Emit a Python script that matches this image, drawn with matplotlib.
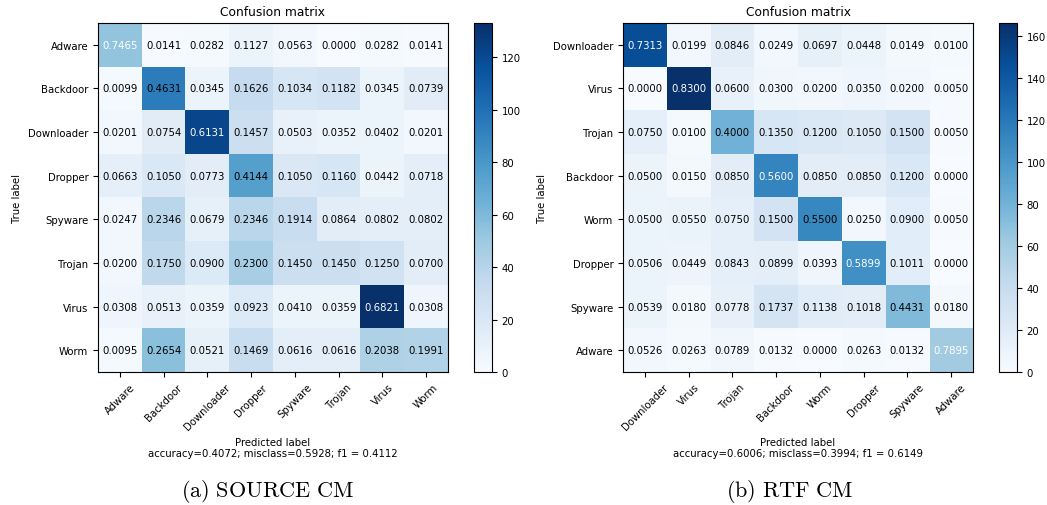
import numpy as np
import matplotlib
matplotlib.use('Agg')
import matplotlib.pyplot as plt

plt.rcParams['mathtext.fontset'] = 'cm'

# SOURCE CM: raw counts (rows = true label)
src_names = ['Adware', 'Backdoor', 'Downloader', 'Dropper', 'Spyware', 'Trojan', 'Virus', 'Worm']
src_cm = [
    [53, 1, 2, 8, 4, 0, 2, 1],
    [2, 94, 7, 33, 21, 24, 7, 15],
    [4, 15, 122, 29, 10, 7, 8, 4],
    [12, 19, 14, 75, 19, 21, 8, 13],
    [4, 38, 11, 38, 31, 14, 13, 13],
    [4, 35, 18, 46, 29, 29, 25, 14],
    [6, 10, 7, 18, 8, 7, 133, 6],
    [2, 56, 11, 31, 13, 13, 43, 42],
]
src_stats = (0.4072, 0.5928, 0.4112)

# RTF CM
rtf_names = ['Downloader', 'Virus', 'Trojan', 'Backdoor', 'Worm', 'Dropper', 'Spyware', 'Adware']
rtf_cm = [
    [147, 4, 17, 5, 14, 9, 3, 2],
    [0, 166, 12, 6, 4, 7, 4, 1],
    [15, 2, 80, 27, 24, 21, 30, 1],
    [10, 3, 17, 112, 17, 17, 24, 0],
    [10, 11, 15, 30, 110, 5, 18, 1],
    [9, 8, 15, 16, 7, 105, 18, 0],
    [9, 3, 13, 29, 19, 17, 74, 3],
    [4, 2, 6, 1, 0, 2, 1, 60],
]
rtf_stats = (0.6006, 0.3994, 0.6149)

W, H = 1047, 506
FS = 7.3


def px_rect(x0, y0, x1, y1):
    return [x0 / W, 1 - y1 / H, (x1 - x0) / W, (y1 - y0) / H]


def plot_cm(fig, cm, names, stats, ax_px, cb_px):
    cm = np.array(cm, dtype=float)
    ax = fig.add_axes(px_rect(*ax_px))
    cax = fig.add_axes(px_rect(*cb_px))
    im = ax.imshow(cm, interpolation='nearest', cmap=plt.cm.Blues, aspect='auto')
    cb = fig.colorbar(im, cax=cax)
    cb.ax.tick_params(labelsize=FS)
    ax.set_title('Confusion matrix', fontsize=8.8)

    # 文字显示按行归一化的比例，颜色仍按原始计数
    norm = cm / cm.sum(axis=1)[:, np.newaxis]
    thresh = norm.max() / 1.5
    for i in range(norm.shape[0]):
        for j in range(norm.shape[1]):
            ax.text(j, i, "{:0.4f}".format(norm[i, j]), ha='center', va='center',
                    fontsize=FS, color='white' if norm[i, j] > thresh else 'black')

    ticks = np.arange(len(names))
    ax.set_xticks(ticks)
    ax.set_xticklabels(names, rotation=45, fontsize=FS)
    ax.set_yticks(ticks)
    ax.set_yticklabels(names, fontsize=FS)
    ax.set_ylabel('True label', fontsize=FS)
    ax.set_xlabel('Predicted label\naccuracy={:0.4f}; misclass={:0.4f}; f1 = {:0.4f}'.format(*stats),
                  fontsize=FS, linespacing=1.1)
    return ax


fig = plt.figure(figsize=(W / 100, H / 100), dpi=100)
plot_cm(fig, src_cm, src_names, src_stats, (98, 24, 448, 373), (474, 24, 492, 373))
plot_cm(fig, rtf_cm, rtf_names, rtf_stats, (623, 24, 973, 373), (999, 24, 1017, 373))

fig.text(267 / W, 1 - 492 / H, r'$\mathrm{(a)\ SOURCE\ CM}$', ha='center', va='center', fontsize=16)
fig.text(790 / W, 1 - 492 / H, r'$\mathrm{(b)\ RTF\ CM}$', ha='center', va='center', fontsize=16)

fig.savefig('out.png', dpi=100)
plt.close(fig)
